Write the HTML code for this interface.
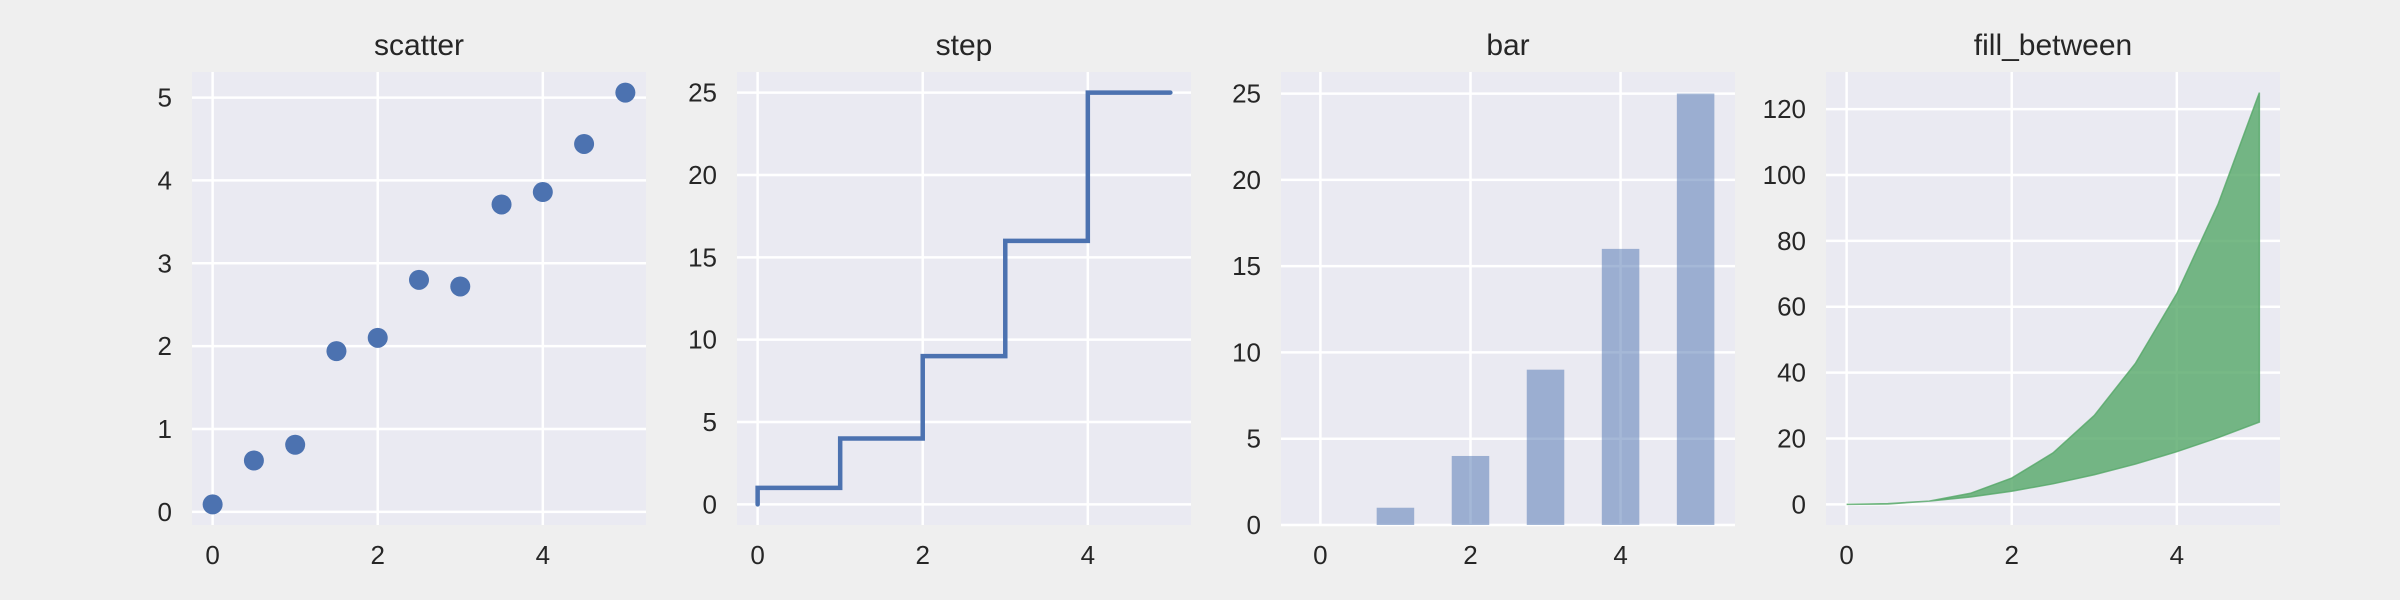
<!DOCTYPE html>
<html><head><meta charset="utf-8"><style>
html,body{margin:0;padding:0;background:#efefef;}
svg{display:block;font-family:"Liberation Sans",Arial,sans-serif;}
</style></head><body>
<svg id="fig" width="2400" height="600" viewBox="0 0 2400 600" xmlns="http://www.w3.org/2000/svg">
<rect width="2400" height="600" fill="#efefef"/>
</svg>
<script>
const scatterX = [0,0.5,1,1.5,2,2.5,3,3.5,4,4.5,5];
const scatterY = [0.09,0.62,0.81,1.94,2.10,2.80,2.72,3.71,3.86,4.44,5.06];
const stepX = [0,1,2,3,4,5];
const stepY = [0,1,4,9,16,25];
const barX = [0,1,2,3,4,5];
const barY = [0,1,4,9,16,25];
const fillX = [0,0.5,1,1.5,2,2.5,3,3.5,4,4.5,5];
const fillLow = [0,0.25,1,2.25,4,6.25,9,12.25,16,20.25,25];
const fillHigh = [0,0.125,1,3.375,8,15.625,27,42.875,64,91.125,125];
const xTicks = [0,2,4];
const scatterTicks = [0,1,2,3,4,5];
const stepTicks = [0,5,10,15,20,25];
const barTicks = [0,5,10,15,20,25];
const fillTicks = [0,20,40,60,80,100,120];

const NS="http://www.w3.org/2000/svg";
const fig=document.getElementById('fig');
function mk(tag,attrs,parent){const e=document.createElementNS(NS,tag);for(const k in attrs)e.setAttribute(k,attrs[k]);(parent||fig).appendChild(e);return e;}
const TOP=72,BOT=525,W=454;
function extent(arr){return [Math.min(...arr),Math.max(...arr)];}
function makeAxes(left,title,xmin,xmax,ymin,ymax,yticks,name){
  const g=mk('g',{});
  
  
  const sx=v=>left+(v-xmin)/(xmax-xmin)*W;
  const sy=v=>BOT-(v-ymin)/(ymax-ymin)*(BOT-TOP);
  const bg=mk('rect',{x:left,y:TOP,width:W,height:BOT-TOP,fill:'#eaeaf2'},g);
  
  
  xTicks.forEach(t=>{
    const l=mk('line',{x1:sx(t),x2:sx(t),y1:TOP,y2:BOT,stroke:'#fff','stroke-width':2.5},g);
    
    
    const tx=mk('text',{x:sx(t),y:564,'text-anchor':'middle','font-size':26,fill:'#262626'},g);
    tx.textContent=t;
    
    
  });
  yticks.forEach(t=>{
    const l=mk('line',{x1:left,x2:left+W,y1:sy(t),y2:sy(t),stroke:'#fff','stroke-width':2.5},g);
    
    
    const tx=mk('text',{x:left-20,y:sy(t)+9,'text-anchor':'end','font-size':26,fill:'#262626'},g);
    tx.textContent=t;
    
    
  });
  const tt=mk('text',{x:left+W/2,y:55,'text-anchor':'middle','font-size':30,fill:'#262626'},g);
  tt.textContent=title;
  
  
  return {g,sx,sy};
}
// scatter
(function(){
  const [lo,hi]=extent(scatterY);const m=(hi-lo)*0.05;
  const a=makeAxes(192,'scatter',-0.25,5.25,lo-m,hi+m,scatterTicks,'scatter');
  scatterX.forEach((x,i)=>{
    const c=mk('circle',{cx:a.sx(x),cy:a.sy(scatterY[i]),r:10,fill:'#4c72b0'},a.g);
    
    
  });
})();
// step
(function(){
  const [lo,hi]=extent(stepY);const m=(hi-lo)*0.05;
  const a=makeAxes(737,'step',-0.25,5.25,lo-m,hi+m,stepTicks,'step');
  let d='M'+a.sx(stepX[0])+','+a.sy(stepY[0]);
  for(let i=1;i<stepX.length;i++){d+=' L'+a.sx(stepX[i-1])+','+a.sy(stepY[i])+' L'+a.sx(stepX[i])+','+a.sy(stepY[i]);}
  const p=mk('path',{d:d,fill:'none',stroke:'#4c72b0','stroke-width':4.5,'stroke-linecap':'round'},a.g);
  
  
})();
// bar
(function(){
  const hi=Math.max(...barY);
  const a=makeAxes(1281,'bar',-0.525,5.525,0,hi*1.05,barTicks,'bar');
  barX.forEach((x,i)=>{
    const y0=a.sy(0),y1=a.sy(barY[i]);
    const r=mk('rect',{x:a.sx(x-0.25),y:y1,width:a.sx(x+0.25)-a.sx(x-0.25),height:y0-y1,fill:'#4c72b0','fill-opacity':0.5},a.g);
    
    
  });
})();
// fill_between
(function(){
  const lo=Math.min(...fillLow),hi=Math.max(...fillHigh);const m=(hi-lo)*0.05;
  const a=makeAxes(1826,'fill_between',-0.25,5.25,lo-m,hi+m,fillTicks,'fill');
  let pts=fillX.map((x,i)=>a.sx(x)+','+a.sy(fillHigh[i]));
  for(let i=fillX.length-1;i>=0;i--)pts.push(a.sx(fillX[i])+','+a.sy(fillLow[i]));
  const p=mk('polygon',{points:pts.join(' '),fill:'#55a868','fill-opacity':0.8,stroke:'#55a868','stroke-opacity':0.8,'stroke-width':1.5},a.g);
  
  
})();
</script>
</body></html>
